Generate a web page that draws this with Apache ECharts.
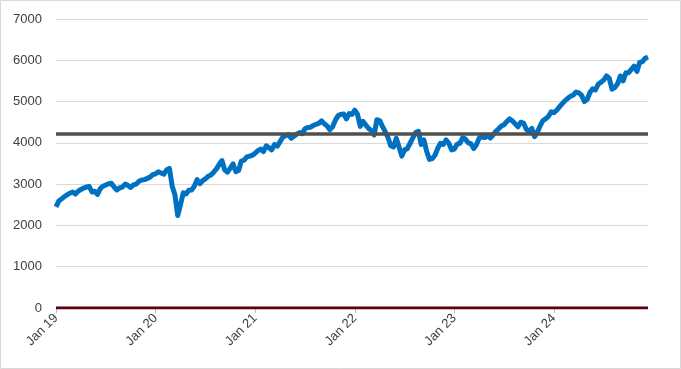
<!DOCTYPE html>
<html><head><meta charset="utf-8">
<script src="https://cdn.jsdelivr.net/npm/echarts@6/dist/echarts.min.js"></script>
<style>html,body{margin:0;padding:0;background:#fff}#c{width:681px;height:369px}</style>
</head><body><div id="c"></div>
<script>
const years = ['19','20','21','22','23','24'];
const monthNames = ['Jan','Feb','Mar','Apr','May','Jun','Jul','Aug','Sep','Oct','Nov','Dec'];
const slotDays = ['01','11','21'];
const tickLabels = ['Jan 19','Jan 20','Jan 21','Jan 22','Jan 23','Jan 24'];
const refLevel = 4230;

// index level, three readings per month (Dec 2024: two)
const v2019 = [2450,2590,2640, 2700,2740,2780, 2810,2760,2830, 2870,2905,2930, 2945,2810,2830, 2750,2890,2950,
               2980,3010,3020, 2930,2860,2910, 2930,3000,2970, 2920,2980,3000, 3070,3100,3110, 3140,3170,3230];
const v2020 = [3250,3300,3270, 3240,3350,3380, 2950,2740,2240, 2500,2790,2760, 2850,2860,2950, 3110,3010,3080,
               3130,3190,3220, 3290,3370,3480, 3570,3340,3290, 3390,3490,3300, 3330,3560,3580, 3660,3680,3700];
const v2021 = [3750,3810,3850, 3790,3930,3880, 3830,3960,3920, 4030,4140,4170, 4200,4110,4160, 4210,4250,4220,
               4340,4370,4380, 4420,4450,4470, 4530,4460,4410, 4320,4390,4550, 4660,4690,4700, 4580,4710,4690];
const v2022 = [4790,4690,4400, 4520,4430,4350, 4300,4190,4560, 4540,4400,4270, 4130,3930,3900, 4110,3900,3680,
               3830,3860,3990, 4120,4250,4280, 3960,4070,3790, 3600,3620,3700, 3870,3990,3960, 4070,3990,3830];
const v2023 = [3850,3970,3990, 4120,4090,4000, 3980,3860,3960, 4120,4140,4130, 4170,4120,4190, 4280,4340,4410,
               4440,4520,4580, 4530,4460,4390, 4500,4480,4330, 4280,4350,4150, 4260,4410,4540, 4580,4640,4750];
const v2024 = [4730,4790,4870, 4950,5020,5080, 5130,5160,5230, 5210,5150,5000, 5050,5220,5310, 5280,5420,5470,
               5520,5620,5560, 5300,5340,5430, 5620,5500,5700, 5700,5780,5860, 5730,5950,5970, 6050,6080];
const zeroValues = [0];

const values = [].concat(v2019, v2020, v2021, v2022, v2023, v2024);
const categories = [];
years.forEach(y => monthNames.forEach(m => slotDays.forEach(d => categories.push(m + ' ' + y + ' ' + d))));
categories.length = values.length;
const zeroSeries = categories.map(() => zeroValues[0]);

const isYearStart = (i) => i % 36 === 0;
const font = 'Liberation Sans, Arial, sans-serif';

const chart = echarts.init(document.getElementById('c'));
chart.setOption({
  animation: false,
  backgroundColor: '#fff',
  grid: {left: 56, right: 33, top: 19, bottom: 61, containLabel: false},
  graphic: [{type: 'rect', shape: {x: 0.5, y: 0.5, width: 680, height: 368},
             style: {fill: 'none', stroke: '#d9d9d9', lineWidth: 1}, silent: true}],
  xAxis: {
    type: 'category', data: categories, boundaryGap: false,
    axisLine: {show: false},
    axisTick: {show: true, interval: (i) => isYearStart(i), length: 5, lineStyle: {color: '#bfbfbf'}},
    axisLabel: {interval: (i) => isYearStart(i), rotate: 45, margin: 8,
                fontFamily: font, fontSize: 13, color: '#404040',
                formatter: (val, i) => tickLabels[Math.floor(i / 36)] || ''},
    splitLine: {show: false}
  },
  yAxis: {
    type: 'value', min: 0, max: 7000, interval: 1000,
    axisLine: {show: false}, axisTick: {show: false},
    axisLabel: {margin: 14, fontFamily: font, fontSize: 13, color: '#404040',
                formatter: (v) => String(v)},
    splitLine: {lineStyle: {color: '#d9d9d9', width: 1}}
  },
  series: [
    {type: 'line', data: zeroSeries, symbol: 'none', z: 2,
     lineStyle: {color: '#5c0010', width: 3}},
    {type: 'line', data: values, symbol: 'none', z: 3,
     lineStyle: {color: '#0070c0', width: 5, join: 'round'},
     markLine: {silent: true, symbol: 'none', label: {show: false}, z: 4,
                lineStyle: {color: '#505050', width: 3.5, type: 'solid'},
                data: [{yAxis: refLevel}]}}
  ]
});
</script></body></html>
